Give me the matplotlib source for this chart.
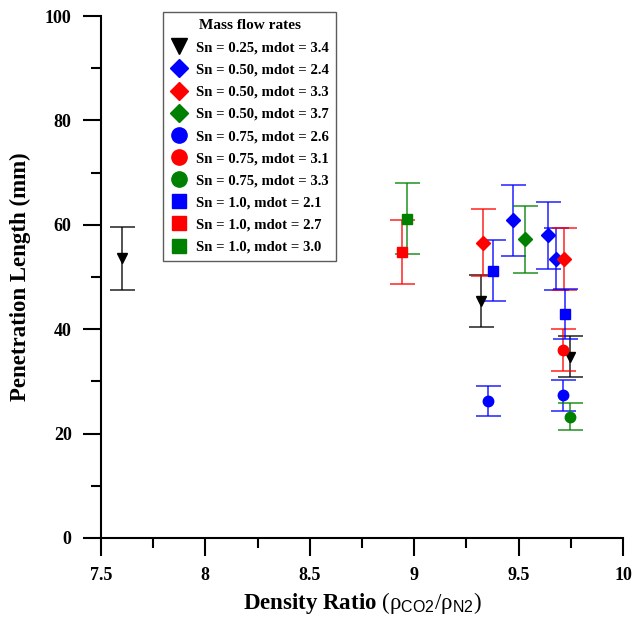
import matplotlib
matplotlib.use("Agg")
import matplotlib.pyplot as plt
from matplotlib.ticker import MultipleLocator

plt.rcParams["font.family"] = ["Liberation Serif", "DejaVu Serif"]
plt.rcParams["font.weight"] = "bold"
plt.rcParams["mathtext.fontset"] = "custom"
plt.rcParams["mathtext.rm"] = "Liberation Serif:weight=normal"
plt.rcParams["mathtext.sf"] = "Liberation Sans:weight=normal"
plt.rcParams["mathtext.it"] = "Liberation Serif:italic:weight=normal"
plt.rcParams["mathtext.bf"] = "Liberation Serif:weight=bold"

# legend labels, marker and colour per series
labels = [
    "Sn = 0.25, mdot = 3.4",
    "Sn = 0.50, mdot = 2.4",
    "Sn = 0.50, mdot = 3.3",
    "Sn = 0.50, mdot = 3.7",
    "Sn = 0.75, mdot = 2.6",
    "Sn = 0.75, mdot = 3.1",
    "Sn = 0.75, mdot = 3.3",
    "Sn = 1.0, mdot = 2.1",
    "Sn = 1.0, mdot = 2.7",
    "Sn = 1.0, mdot = 3.0",
]
markers = ["v", "D", "D", "D", "o", "o", "o", "s", "s", "s"]
colors = ["black", "blue", "red", "green", "blue", "red", "green", "blue", "red", "green"]

# density ratio, penetration length (mm), error (mm)
ratio = [
    [7.60, 9.32, 9.746],
    [9.473, 9.639, 9.679],
    [9.331, 9.717],
    [9.529],
    [9.355, 9.713],
    [9.713],
    [9.746],
    [9.376, 9.719],
    [8.943],
    [8.964],
]
length = [
    [53.6, 45.4, 34.7],
    [60.9, 58.0, 53.4],
    [56.6, 53.4],
    [57.2],
    [26.3, 27.3],
    [36.0],
    [23.2],
    [51.2, 42.9],
    [54.8],
    [61.2],
]
err = [
    [6.0, 5.0, 3.9],
    [6.8, 6.4, 5.9],
    [6.4, 5.9],
    [6.4],
    [2.9, 3.0],
    [4.0],
    [2.6],
    [5.8, 4.8],
    [6.1],
    [6.8],
]

fig = plt.figure(figsize=(6.34, 6.19), dpi=100)
ax = fig.add_axes([0.159, 0.131, 0.824, 0.843])

for lab, m, c, x, y, e in zip(labels, markers, colors, ratio, length, err):
    ax.errorbar(x, y, yerr=e, fmt="none", ecolor=c, elinewidth=1.2,
                capsize=9, capthick=1.2, alpha=0.8, zorder=2)
    ms = 7.5 if m == "o" else 7
    ax.plot(x, y, linestyle="none", marker=m, color=c, markersize=ms,
            label=lab, zorder=3)

ax.set_xlim(7.5, 10)
ax.set_ylim(0, 100)
ax.xaxis.set_minor_locator(MultipleLocator(0.25))
ax.yaxis.set_major_locator(MultipleLocator(20))
ax.yaxis.set_minor_locator(MultipleLocator(10))
ax.set_xticks([7.5, 8, 8.5, 9, 9.5, 10])
ax.set_xticklabels(["7.5", "8", "8.5", "9", "9.5", "10"])

for s in ["top", "right"]:
    ax.spines[s].set_visible(False)
for s in ["left", "bottom"]:
    ax.spines[s].set_linewidth(1.5)
ax.tick_params(which="major", direction="out", length=13, width=1.5,
               labelsize=13, pad=8)
ax.tick_params(which="minor", direction="out", length=7, width=1.5)

ax.set_ylabel("Penetration Length (mm)", fontsize=16.5, fontweight="bold",
              labelpad=10)
ax.set_xlabel(r"Density Ratio $\mathrm{(\rho}_{\mathsf{CO2}}\mathrm{/\rho}_{\mathsf{N2}}\mathrm{)}$",
              fontsize=16.5, fontweight="bold")

leg = ax.legend(loc="upper left", bbox_to_anchor=(0.105, 1.022),
                title="Mass flow rates", fontsize=10.6, title_fontsize=11,
                handlelength=1.2, handletextpad=0.55,
                labelspacing=0.6, frameon=True, fancybox=False,
                borderpad=0.5)
leg.get_frame().set_edgecolor("#333333")
leg.get_frame().set_linewidth(1.0)
leg.get_title().set_fontweight("bold")
# legend symbols all about the same size
for h, m in zip(leg.legend_handles, markers):
    h.set_markersize({"v": 11.5, "D": 9.5, "o": 11, "s": 10.5}[m])

fig.savefig("out.png", dpi=100)
